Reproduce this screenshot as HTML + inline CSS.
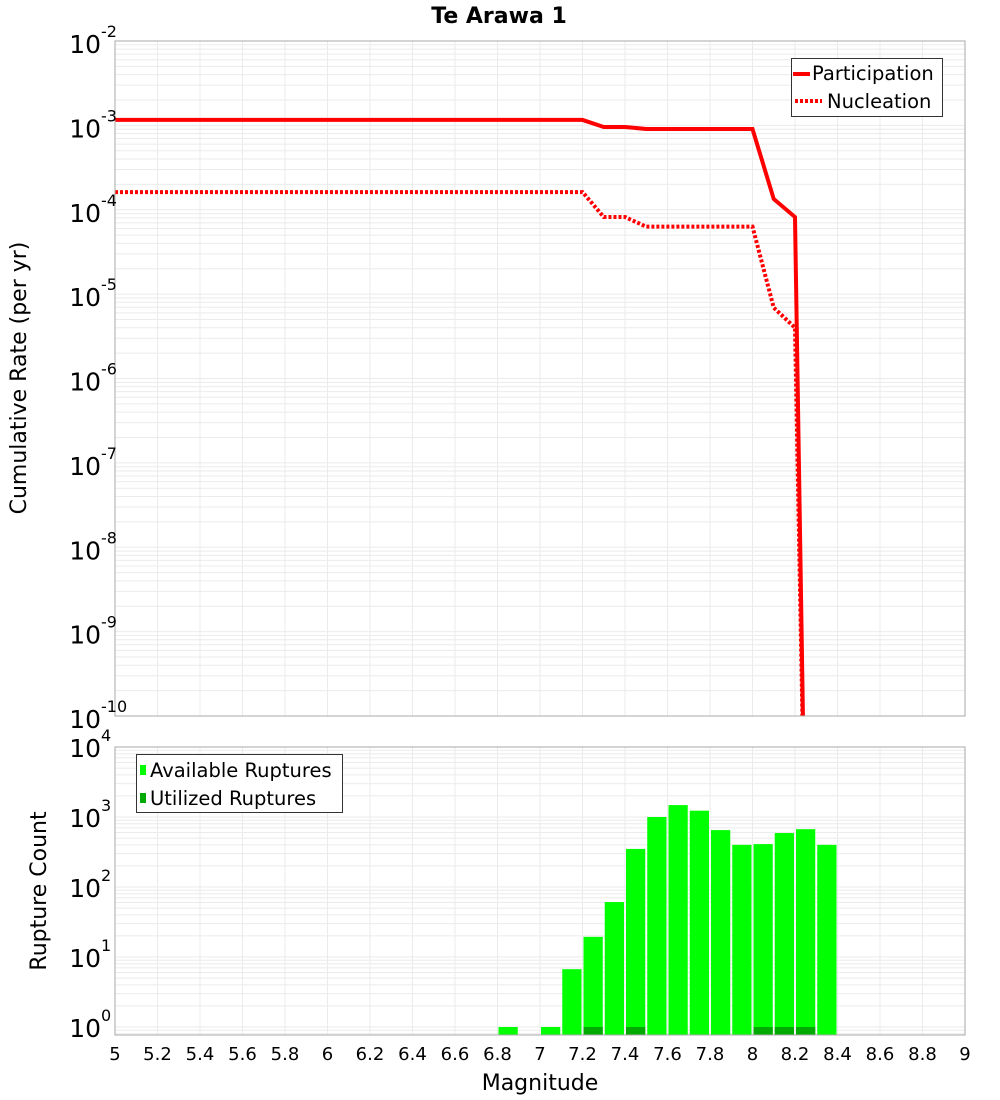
<!DOCTYPE html>
<html><head><meta charset="utf-8"><style>
body{margin:0;background:#fff;}
svg{display:block;font-family:"DejaVu Sans","Liberation Sans",sans-serif;}
</style></head><body>
<svg id="c" width="1000" height="1100" xmlns="http://www.w3.org/2000/svg">
<text x="499" y="23" text-anchor="middle" font-size="22" font-weight="bold">Te Arawa 1</text>
<g id="gtop"></g>
<g id="gbot"></g>
<text transform="translate(26,378) rotate(-90)" text-anchor="middle" font-size="22">Cumulative Rate (per yr)</text>
<text transform="translate(46,891) rotate(-90)" text-anchor="middle" font-size="22">Rupture Count</text>
<text x="540" y="1090" text-anchor="middle" font-size="22">Magnitude</text>
<g>
<rect x="791.5" y="58.5" width="151" height="58" fill="#fff" stroke="#333"/>
<line x1="793" y1="74" x2="810" y2="74" stroke="#f00" stroke-width="4"/>
<text x="812" y="80" font-size="19.5">Participation</text>
<line x1="795" y1="101" x2="822" y2="101" stroke="#f00" stroke-width="4" stroke-dasharray="3,2"/>
<text x="827" y="108" font-size="19.5">Nucleation</text>
</g>
<g>
<rect x="136.5" y="754.5" width="206" height="58" fill="#fff" stroke="#333"/>
<rect x="140" y="765" width="6" height="10" fill="#00ff00"/>
<text x="150" y="777" font-size="19.5">Available Ruptures</text>
<rect x="140" y="793" width="6" height="10" fill="#00aa00"/>
<text x="150" y="805" font-size="19.5">Utilized Ruptures</text>
</g>
</svg>
<script>
const partMags=[5,7.2,7.3,7.4,7.5,8.0,8.1,8.2,8.25];
const partVals=[1.16e-3,1.16e-3,9.57e-4,9.57e-4,9.06e-4,9.06e-4,1.34e-4,8.2e-5,1e-12];
const nuclMags=[5,7.2,7.3,7.4,7.5,8.0,8.1,8.2,8.25];
const nuclVals=[1.62e-4,1.62e-4,8.2e-5,8.2e-5,6.3e-5,6.3e-5,6.9e-6,4e-6,1e-12];
const barMags=[6.85,7.05,7.15,7.25,7.35,7.45,7.55,7.65,7.75,7.85,7.95,8.05,8.15,8.25,8.35];
const availCounts=[1,1,6.7,19.4,61,350,1000,1480,1230,650,400,410,590,670,400];
const usedMags=[7.25,7.45,8.05,8.15,8.25];
const usedCounts=[1,1,1,1,1];
const xTicks=[5,5.2,5.4,5.6,5.8,6,6.2,6.4,6.6,6.8,7,7.2,7.4,7.6,7.8,8,8.2,8.4,8.6,8.8,9];
const topExps=[-2,-3,-4,-5,-6,-7,-8,-9,-10];
const botExps=[4,3,2,1,0];

const NS="http://www.w3.org/2000/svg";
const L=115,R=965;
const X=m=>L+(m-5)/4*(R-L);
const TT=41,TB=716,Yt=v=>TT+(-2-Math.log10(v))*(TB-TT)/8;
const BT=747,BB=1035,Yb=v=>BT+(4-Math.log10(v))*70;
function el(p,t,a){const e=document.createElementNS(NS,t);for(const k in a)e.setAttribute(k,a[k]);p.appendChild(e);return e;}
const gTop=document.getElementById('gtop'),gBot=document.getElementById('gbot');

function grid(g,y0,y1,decades,Y,minExp){
  for(let d=0;d<decades;d++)for(let k=1;k<10;k++){
    const y=Y(k*Math.pow(10,minExp+d));
    if(y<y0||y>y1)continue;
    const ln=el(g,'line',{x1:L,x2:R,y1:y,y2:y,stroke:'#ebebeb','stroke-width':1});
    
    
  }
  xTicks.forEach(m=>{const ln=el(g,'line',{x1:X(m),x2:X(m),y1:y0,y2:y1,stroke:'#ebebeb'});
    
    });
}
grid(gTop,TT,TB,9,Yt,-11);
grid(gBot,BT,BB,6,Yb,-1);

function drawLine(mags,vals,dash,name){
  const clip=el(gTop,'clipPath',{id:'cl'+name});el(clip,'rect',{x:L,y:TT,width:R-L,height:TB-TT});
  const p=el(gTop,'polyline',{points:mags.map((m,i)=>X(m)+','+Yt(vals[i])).join(' '),fill:'none',stroke:'#f00','stroke-width':4,'clip-path':'url(#cl'+name+')'});
  if(dash)p.setAttribute('stroke-dasharray','3,2');
  
  
}
drawLine(nuclMags,nuclVals,true,'nucleation');
drawLine(partMags,partVals,false,'participation');

const bw=(X(0.1)-X(0));
barMags.forEach((m,i)=>{const y=Yb(availCounts[i]);
  const r=el(gBot,'rect',{x:X(m)-bw/2+1,y:y,width:bw-2,height:BB-y,fill:'#00ff00'});
  
  });
usedMags.forEach((m,i)=>{const y=Yb(usedCounts[i]);
  const r=el(gBot,'rect',{x:X(m)-bw/2+1,y:y,width:bw-2,height:BB-y,fill:'#00aa00'});
  
  });

[[TT,TB,'top'],[BT,BB,'bottom']].forEach(([a,b,n])=>{const r=el(n=='top'?gTop:gBot,'rect',{x:L,y:a,width:R-L,height:b-a,fill:'none',stroke:'#aaa'});
  
  });

function ylab(g,exp,y,name){
  const t=el(g,'text',{x:101,y:y,'text-anchor':'end','font-size':25});
  
  
  t.textContent='10';
  const s=el(g,'text',{x:101,y:y-16,'font-size':16});
  
  
  s.textContent=String(exp);
}
topExps.forEach(e=>ylab(gTop,e,Yt(Math.pow(10,e))+12,'top-y-tick-label'));
botExps.forEach(e=>ylab(gBot,e,Yb(Math.pow(10,e))+10,'bottom-y-tick-label'));
xTicks.forEach(m=>{const t=el(gBot,'text',{x:X(m),y:1060,'text-anchor':'middle','font-size':18});
  
  
  t.textContent=String(m);});
</script>
</body></html>
